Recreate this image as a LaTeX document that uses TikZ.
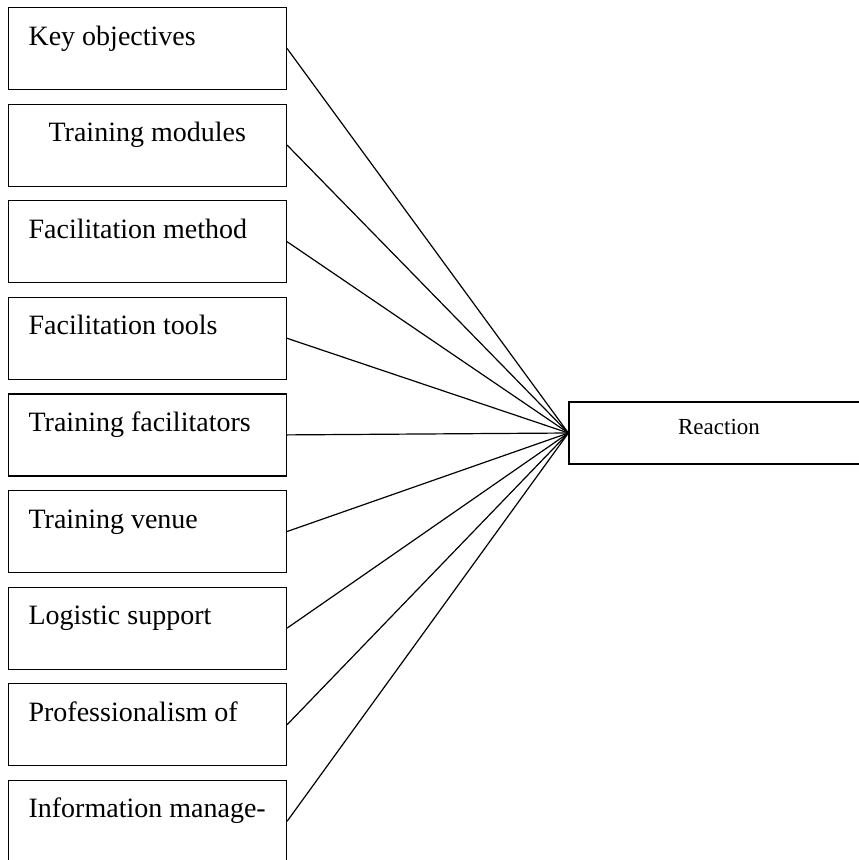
\documentclass[tikz,border=0pt]{standalone}
\usepackage{fontspec}
\setmainfont{Liberation Serif}
\usetikzlibrary{positioning}

\begin{document}
\begin{tikzpicture}[x=1pt, y=-1pt, line width=1.2pt,
    factor/.style={draw, rectangle, minimum width=278pt, minimum height=82pt, inner sep=0pt},
    factortext/.style={anchor=base west, inner sep=0pt, font=\fontsize{28}{32}\selectfont}]
            \clip (0,0) rectangle (859,860);

            \node [draw, minimum width=300pt, minimum height=62pt, text height=15.6pt, text depth=12pt,
                   font=\fontsize{23}{26}\selectfont] (reaction) at (719,433) {Reaction};

            \foreach \name/\txt/\dx [count=\i from 0] in {objectives/Key objectives/0,
                    modules/Training modules/20, method/Facilitation method/0,
                    tools/Facilitation tools/0, facilitators/Training facilitators/0,
                    venue/Training venue/0, logistic/Logistic support/0,
                    professionalism/Professionalism of/0, information/Information manage-/0}
            {
                \node [factor] (\name) at (147.5,48.5+96.6*\i) {};
                \node [factortext] (\name-text) at (28+\dx,45+96.6*\i) {\txt};
                \draw (\name.east) -- (reaction.west);
            }
        \end{tikzpicture}
\end{document}
